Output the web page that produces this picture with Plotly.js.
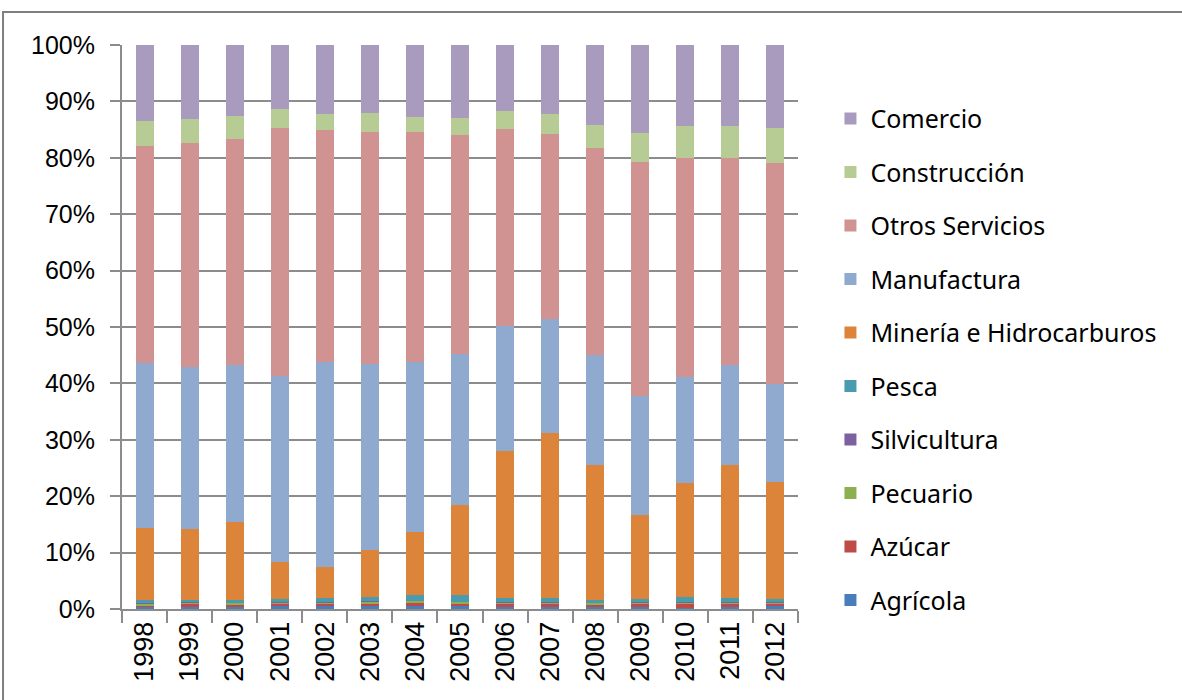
<!DOCTYPE html>
<html>
<head>
<meta charset="utf-8">
<script src="https://cdn.plot.ly/plotly-3.0.1.min.js"></script>
<style>
  html, body { margin: 0; padding: 0; background: #ffffff; }
  #chart { width: 1182px; height: 700px; }
</style>
</head>
<body>
<div id="chart"></div>
<script>
const years = ["1998","1999","2000","2001","2002","2003","2004","2005","2006","2007","2008","2009","2010","2011","2012"];

const agricola     = [0.4,0.3,0.4,0.5,0.5,0.6,0.6,0.5,0.4,0.4,0.4,0.4,0.2,0.3,0.5];
const azucar       = [0.2,0.5,0.3,0.3,0.3,0.3,0.4,0.4,0.4,0.4,0.3,0.4,0.6,0.5,0.3];
const pecuario     = [0.3,0.3,0.3,0.3,0.3,0.4,0.4,0.3,0.3,0.3,0.3,0.3,0.3,0.3,0.3];
const silvicultura = [0.1,0.1,0.1,0.1,0.1,0.1,0.1,0.1,0.1,0.1,0.1,0.1,0.1,0.1,0.1];
const pesca        = [0.6,0.4,0.5,0.6,0.8,0.8,0.9,1.1,0.8,0.8,0.5,0.5,1.0,0.8,0.5];
const mineria      = [12.8,12.6,13.9,6.5,5.4,8.3,11.3,16.0,26.0,29.2,23.9,15.0,20.1,23.5,20.9];
const manufactura  = [29.2,28.7,27.8,33.0,36.4,32.9,30.1,26.8,22.2,20.2,19.5,21.1,18.8,17.8,17.3];
const otros        = [38.5,39.7,40.1,44.0,41.2,41.1,40.8,38.8,34.9,32.9,36.8,41.5,38.9,36.7,39.1];
const construccion = [4.4,4.3,4.0,3.4,2.8,3.5,2.6,3.1,3.2,3.5,4.0,5.1,5.6,5.6,6.3];
const comercio     = [13.5,13.1,12.6,11.3,12.2,12.0,12.8,12.9,11.7,12.2,14.2,15.6,14.4,14.4,14.7];

const seriesNames = ["Agrícola","Azúcar","Pecuario","Silvicultura","Pesca","Minería e Hidrocarburos","Manufactura","Otros Servicios","Construcción","Comercio"];
const seriesValues = [agricola, azucar, pecuario, silvicultura, pesca, mineria, manufactura, otros, construccion, comercio];
const seriesColors = ["#4A7EBB","#BE4B48","#8DB04F","#7D60A0","#4A9BB0","#DC843A","#8FA9CF","#D19392","#B7CC94","#A89BBD"];

const traces = seriesNames.map((name, i) => ({
  type: "bar",
  name: name,
  x: years,
  y: seriesValues[i],
  legendgroup: "g" + i,
  legendrank: 1000 - i * 10,
  marker: { color: seriesColors[i], line: { width: 0 } },
  hoverinfo: "name+y"
}));

const gridColor = "#8c8c8c";

const layout = {
  width: 1182,
  height: 700,
  margin: { l: 122, r: 384, t: 45, b: 91, pad: 0 },
  paper_bgcolor: "#ffffff",
  plot_bgcolor: "#ffffff",
  barmode: "stack",
  barnorm: "percent",
  bargap: 0.6,
  font: { family: "Liberation Sans, Arial, sans-serif", color: "#000000" },
  xaxis: {
    type: "category",
    tickangle: -90,
    tickfont: { size: 27, family: "Liberation Sans, Arial, sans-serif" },
    showline: true,
    linecolor: gridColor,
    linewidth: 2,
    ticks: "outside",
    tickson: "boundaries",
    ticklen: 12,
    tickwidth: 2,
    tickcolor: gridColor,
    showgrid: false,
    zeroline: false
  },
  yaxis: {
    range: [0, 100],
    dtick: 10,
    ticksuffix: "%",
    tickfont: { size: 25, family: "Liberation Sans, Arial, sans-serif" },
    ticklabelstandoff: 10,
    showline: true,
    linecolor: gridColor,
    linewidth: 2,
    ticks: "outside",
    ticklen: 10,
    tickwidth: 2,
    tickcolor: gridColor,
    showgrid: true,
    gridcolor: gridColor,
    gridwidth: 2,
    zeroline: false,
    fixedrange: true
  },
  legend: {
    traceorder: "grouped",
    tracegroupgap: 18,
    x: 1.048,
    xanchor: "left",
    y: 0.91,
    yanchor: "top",
    borderwidth: 0,
    font: { size: 25, family: "Noto Sans, Open Sans, sans-serif", color: "#000000" },
    bgcolor: "rgba(0,0,0,0)"
  },
  shapes: [{
    type: "rect",
    xref: "paper", yref: "paper",
    x0: -0.176, x1: 1.6,
    y0: -0.3, y1: 1.0585,
    line: { color: "#7f7f7f", width: 2 },
    fillcolor: "rgba(0,0,0,0)",
    layer: "below"
  }],
  showlegend: true
};

Plotly.newPlot("chart", traces, layout, { displayModeBar: false, staticPlot: true });
</script>
</body>
</html>
